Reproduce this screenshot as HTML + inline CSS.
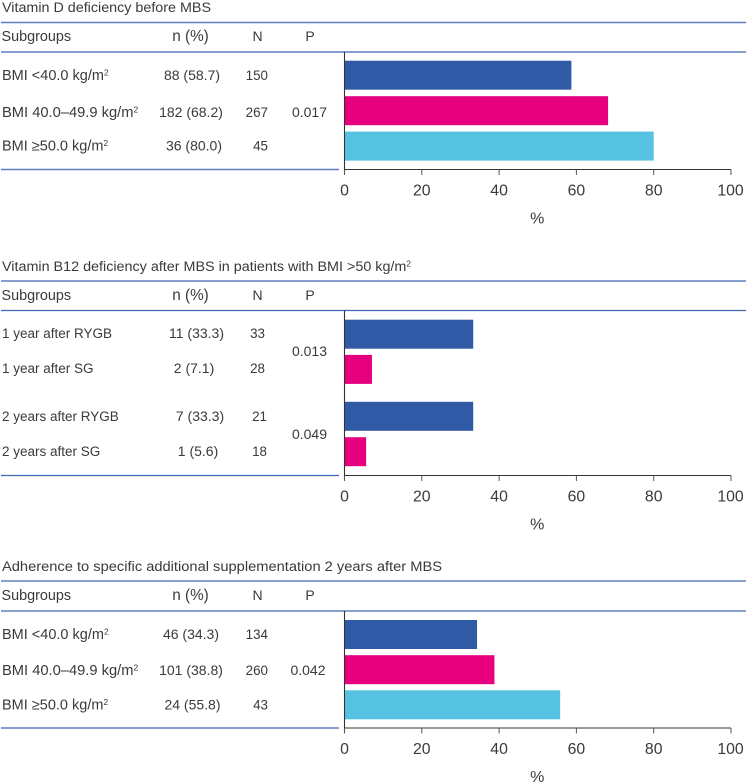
<!DOCTYPE html>
<html lang="en">
<head>
<meta charset="utf-8">
<title>Vitamin deficiency subgroup charts</title>
<style>
html,body{margin:0;padding:0;background:#fff;width:746px;height:784px;overflow:hidden}
svg{display:block;position:absolute;left:0;top:0}
text{font-family:"Liberation Sans",sans-serif;fill:#3a3a3a}
</style>
</head>
<body>
<svg id="figure" xmlns="http://www.w3.org/2000/svg" width="746" height="784" viewBox="0 0 746 784"></svg>
<script>
// ---- data ----
const panelTitles = ["Vitamin D deficiency before MBS", "Vitamin B12 deficiency after MBS in patients with BMI >50 kg/m", "Adherence to specific additional supplementation 2 years after MBS"];
const headerLabels = ["Subgroups", "n (%)", "N", "P"];
const tickLabels = [0, 20, 40, 60, 80, 100];

const subgroups1 = ["BMI <40.0 kg/m", "BMI 40.0\u201349.9 kg/m", "BMI \u226550.0 kg/m"];
const counts1 = [88, 182, 36];
const percents1 = [58.7, 68.2, 80.0];
const totals1 = [150, 267, 45];
const pValues1 = ["0.017"];

const subgroups2 = ["1 year after RYGB", "1 year after SG", "2 years after RYGB", "2 years after SG"];
const counts2 = [11, 2, 7, 1];
const percents2 = [33.3, 7.1, 33.3, 5.6];
const totals2 = [33, 28, 21, 18];
const pValues2 = ["0.013", "0.049"];

const subgroups3 = ["BMI <40.0 kg/m", "BMI 40.0\u201349.9 kg/m", "BMI \u226550.0 kg/m"];
const counts3 = [46, 101, 24];
const percents3 = [34.3, 38.8, 55.8];
const totals3 = [134, 260, 43];
const pValues3 = ["0.042"];

// ---- layout ----
const NS = "http://www.w3.org/2000/svg";
const svg = document.getElementById("figure");
const AX0 = 344.5, AX100 = 731;
const xScale = v => AX0 + (v / 100) * (AX100 - AX0);
const BAR_H = 29;
const COLORS = ["#315aa6", "#e6007e", "#56c2e2"];
const LINE = "#3f66b5";

function mk(tag, attrs, parent) {
  const el = document.createElementNS(NS, tag);
  for (const k in attrs) el.setAttribute(k, attrs[k]);
  (parent || svg).appendChild(el);
  return el;
}
function txt(str, x, y, anchor, size, parent, sup) {
  const t = mk("text", {x: x, y: y, "text-anchor": anchor, "font-size": size}, parent);
  t.appendChild(document.createTextNode(str));
  if (sup) {
    const s = mk("tspan", {dy: -4.5, "font-size": size * 0.58}, t);
    s.textContent = "2";
  }
  return t;
}

const panels = [
  {key: "vitamin-d", title: panelTitles[0], sup: false, titleLen: 209, titleY: 12, topY: 22.5, headY: 41, headLine: 52, botY: 169.5,
   rowsText: subgroups1, counts: counts1, pct: percents1, tot: totals1, pv: pValues1,
   barTop: [60.7, 96.2, 131.6], textY: [80, 117, 150.5], nX: [192, 191, 194], totEnd: [268, 268, 268],
   pY: [117], pX: [309.5], rowSup: true, rowFs: [14.5, 14.7, 14.5], colorIdx: [0, 1, 2], lineW: 1.5, lineC: "#5b7ec4"},
  {key: "vitamin-b12", title: panelTitles[1], sup: true, titleLen: 409, titleY: 271, topY: 281, headY: 300, headLine: 310.5, botY: 475.5,
   rowsText: subgroups2, counts: counts2, pct: percents2, tot: totals2, pv: pValues2,
   barTop: [319.7, 354.9, 401.8, 437.2], textY: [338, 373, 421, 456], nX: [196.5, 194, 200, 198], totEnd: [265, 265, 267, 267],
   pY: [356, 439], pX: [309.5, 309.5], rowSup: false, rowFs: [13.5, 13.5, 13.5, 13.5], colorIdx: [0, 1, 0, 1], lineW: 1.2, lineC: LINE},
  {key: "adherence", title: panelTitles[2], sup: false, titleLen: 440, titleY: 571, topY: 581, headY: 600, headLine: 611, botY: 728,
   rowsText: subgroups3, counts: counts3, pct: percents3, tot: totals3, pv: pValues3,
   barTop: [620, 655.2, 690.3], textY: [639, 675, 709.5], nX: [191, 191, 192.5], totEnd: [268, 268, 268],
   pY: [675], pX: [308], rowSup: true, rowFs: [14.5, 14.7, 14.5], colorIdx: [0, 1, 2], lineW: 1.2, lineC: LINE}
];

panels.forEach(p => {
  const g = mk("g", {});
  
  

  const title = txt(p.title, 2, p.titleY, "start", 14.2, g, p.sup);
  
  
  title.setAttribute('textLength', p.titleLen);
  title.setAttribute('lengthAdjust', 'spacingAndGlyphs');

  const rules = [[1, 746, p.topY, 'table-top-rule'], [1, 746, p.headLine, 'table-header-rule'], [1, 339, p.botY, 'table-bottom-rule']];
  rules.forEach(r => {
    const l = mk("line", {x1: r[0], x2: r[1], y1: r[2], y2: r[2], stroke: p.lineC, "stroke-width": p.lineW}, g);
    
    
  });

  const headX = [1.5, 190.5, 257.5, 310];
  const headA = ["start", "middle", "middle", "middle"];
  const headFs = [14.4, 15.3, 14, 14];
  headerLabels.forEach((h, i) => {
    const t = txt(h, headX[i], p.headY, headA[i], headFs[i], g);
    
    
  });

  p.rowsText.forEach((label, i) => {
    const a = txt(label, 2, p.textY[i], "start", p.rowFs[i], g, p.rowSup);
    
    
    const b = txt(p.counts[i] + " (" + p.pct[i].toFixed(1) + ")", p.nX[i], p.textY[i], "middle", 14, g);
    
    
    const c = txt(String(p.tot[i]), p.totEnd[i], p.textY[i], "end", 13.4, g);
    
    

    const bar = mk("rect", {x: xScale(0), y: p.barTop[i], width: xScale(p.pct[i]) - xScale(0), height: BAR_H, fill: COLORS[p.colorIdx[i]]}, g);
    
    
  });

  p.pv.forEach((v, i) => {
    const t = txt(v, p.pX[i], p.pY[i], "middle", 14, g);
    
    
  });

  const yAxis = mk("line", {x1: AX0, x2: AX0, y1: p.headLine, y2: p.botY + 5.5, stroke: "#333", "stroke-width": 1.1}, g);
  
  
  const xAxis = mk("line", {x1: AX0, x2: xScale(100), y1: p.botY, y2: p.botY, stroke: "#333", "stroke-width": 1.1}, g);
  
  

  tickLabels.forEach(v => {
    const tick = mk("line", {x1: xScale(v), x2: xScale(v), y1: p.botY, y2: p.botY + 5.5, stroke: "#555", "stroke-width": 1}, g);
    
    
    const lab = txt(String(v), xScale(v) - (v === 100 ? 0.5 : 0), p.botY + 26, "middle", 15.8, g);
    
    
  });

  const axisTitle = txt("%", xScale(50) - 0.5, p.botY + 54, "middle", 16, g);
  
  
});
</script>
</body>
</html>
